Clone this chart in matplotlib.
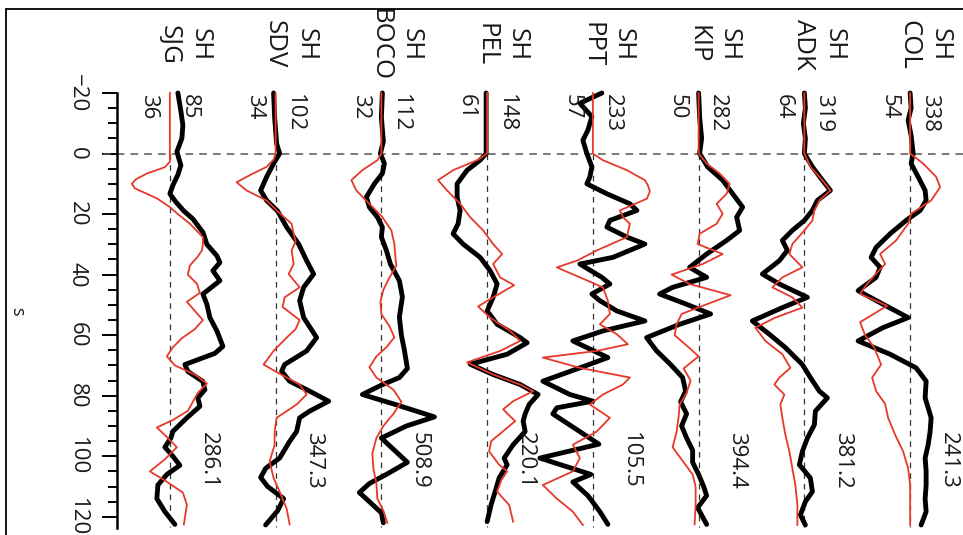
import numpy as np
import matplotlib.pyplot as plt
from matplotlib.patches import Rectangle

plt.rcParams['font.family'] = ['Open Sans', 'DejaVu Sans']

# stations, left to right
stations = ["SJG", "SDV", "BOCO", "PEL", "PPT", "KIP", "ADK", "COL"]
azimuth = [85, 102, 112, 148, 233, 282, 319, 338]
distance = [36, 34, 32, 61, 57, 50, 64, 54]
amplitude = ["286.1", "347.3", "508.9", "220.1", "105.5", "394.4", "381.2", "241.3"]

SJG_OBS = [(-20, 8), (-14, 11), (-9.4, 13), (-5, 12), (-0.6, 7), (3.9, 11), (7, 8), (10.5, 3),
           (13.3, 0), (16, 6), (19, 14), (21.6, 23), (26, 33), (30, 37), (33.8, 47), (36, 50),
           (38.7, 43), (42, 50), (46.4, 33), (49.8, 37), (54.2, 40), (58.6, 47), (63.7, 53),
           (66, 45), (69.7, 15), (72, 18), (75.3, 33), (78, 35), (80.7, 28), (83.5, 30),
           (87.3, 17), (91.8, 3), (94, 1), (97, -5), (100, 3), (103, 10), (106, -3),
           (109.5, -12), (114, -13), (118.3, -5), (122.5, 5)]
SJG_SYN = [(-20, 0), (2.7, 0), (4.5, -5), (6.6, -23), (8.5, -34), (10, -38), (11.5, -35),
           (13.3, -23), (15, -12), (17.7, 0), (20, 8), (23.2, 20), (27.6, 33), (30, 33),
           (32, 32), (34, 28), (37, 20), (40, 18), (43, 27), (46, 30), (49, 17), (52, 25),
           (55, 33), (58, 25), (61, 12), (64, 3), (67, -3), (70, 5), (73, 25), (76, 37),
           (79, 28), (82, 23), (85, 18), (88, 3), (90.5, -13), (93, -5), (97, 7), (101, -5),
           (105, -20), (108, -5), (112, 13), (116, 17), (122.5, 14)]

SDV_OBS = [(-20, -2), (-12, -1), (-3.3, 1), (0, 4), (3.3, -2), (7.7, -9), (12.2, -15),
           (15.5, -9), (19, 2), (24.3, 11), (29.9, 23), (35.4, 31), (39.8, 38), (44.2, 28),
           (48.6, 24), (54.2, 28), (60.8, 41), (65.2, 31), (69.7, 9), (71.9, 6), (75.2, 14),
           (78.5, 34), (81.8, 53), (85.1, 34), (87.3, 24), (91.8, 21), (95.1, 14), (100.6, 4),
           (104, -10), (107, -15), (110, -8), (114, 8), (118, 2), (122.7, -10)]
SDV_SYN = [(-20, 0), (0, 0), (2, -2), (4.4, -9), (7, -25), (9.5, -39), (12.2, -29), (15.5, -9),
           (18.8, 1), (23.2, 16), (26.5, 18), (29, 20), (32, 16), (36.5, 18), (39.8, 13),
           (44.2, 24), (47.5, 9), (50.7, 7), (55, 24), (58, 20), (60.8, 11), (65.2, -2),
           (69.7, -12), (72, 0), (76.3, 24), (79.6, 31), (82.9, 21), (87.3, 1), (91.8, -1),
           (96.2, -1), (101.7, -6), (107.2, -2), (111.7, 4), (117.3, 11), (122.5, 14)]

BOCO_OBS = [(-20, 1), (-12, 0), (-4, 2), (0, -1), (3.3, 3), (6.6, 1), (10, -7), (14.4, -15),
            (17.7, -12), (21, -4), (24.3, 1), (27.6, 0), (32, 5), (36.5, 9), (42, 18),
            (47.4, 21), (54, 18), (60, 20), (65, 23), (71, 26), (74, 18), (76.5, 0),
            (79.6, -19), (83, 15), (87, 53), (90, 25), (94, 0), (98, 13), (102, 26), (106, 5),
            (109, -12), (112, -22), (115, -12), (118.7, 0), (122, 2)]
BOCO_SYN = [(-20, 0), (0, 0), (2.2, -4), (5.5, -19), (8.8, -30), (12.2, -25), (16.6, -12),
            (21, 1), (25.4, 10), (29.9, 13), (34.3, 14), (37, 15), (41, 8), (45, 2), (49, -1),
            (53, 0), (57, 8), (60.7, 13), (64, 5), (67, -5), (70.6, -12), (74, -5), (78, 12),
            (82, 20), (86, 12), (90, 2), (94, -5), (99, -9), (104, -8), (109, -5), (114, -4),
            (118, 2), (122, 6)]

PEL_OBS = [(-20, -1), (0, -1), (2.2, -7), (5.5, -20), (10, -30), (14.4, -30), (18.8, -27),
           (23.2, -29), (26.5, -34), (29.9, -24), (34.3, -7), (38.7, 3), (43.1, 10),
           (47.5, 6), (52, 0), (56.4, 10), (60.8, 33), (62.5, 40), (66.3, 20), (69.6, -17),
           (73, 6), (76.3, 33), (79.6, 51), (82.9, 42), (86, 38), (88.4, 36), (91.8, 38),
           (96.2, 26), (100.6, 17), (102.8, 20), (107.2, 12), (111.7, 8), (116, 4), (121.6, 0)]
PEL_SYN = [(-20, 0), (0, 0), (2.2, -10), (5.5, -34), (8.8, -49), (12.2, -40), (16.6, -27),
           (21, -17), (25.4, -4), (29.9, 6), (33.2, 15), (36.5, 6), (40.9, 13), (43.5, 27),
           (47.5, 6), (50.5, -9), (54.2, 3), (58.6, 23), (61.9, 33), (65.2, 13), (69, -20),
           (73, 6), (76.3, 33), (78.5, 46), (81.8, 26), (84.5, 16), (88.4, 28), (92, 15),
           (95, 4), (98.4, 2), (102.8, 12), (105, 20), (108, 14), (111.7, 10), (116.1, 22),
           (121.6, 26)]

PPT_OBS = [(-20, 9), (-16.6, -13), (-12.2, -1), (-7.7, -5), (-4.4, -10), (0, -6), (4.4, -1),
           (7.7, -3), (10, -6), (13.3, 14), (16.6, 37), (18.8, 44), (22.1, 17), (24.3, 14),
           (27.6, 34), (29.9, 52), (34.3, 20), (36.5, -13), (40.9, 9), (43.1, 17), (46.4, -1),
           (48.6, 7), (52, 24), (55.3, 52), (58.6, 10), (61.9, -20), (64.1, -6), (67.4, 15),
           (70.8, -13), (75.2, -50), (79.6, -23), (81.8, 0), (84, -36), (86, -40), (91, -17),
           (96, 6), (100.6, -53), (106, -2), (108.5, -20), (113, -5), (118.3, 7), (122.5, 15)]
PPT_SYN = [(-20, 0), (0, 0), (2.2, 10), (5.5, 34), (8.8, 52), (10.5, 55), (12.5, 57),
           (14.9, 54), (18.8, 27), (21, 30), (23.2, 37), (27.6, 34), (32, 4), (35.4, -16),
           (37.6, -36), (40.9, -13), (44.2, 10), (48.6, 15), (53, 17), (56.4, 7), (59.7, 24),
           (63, 35), (65.2, 4), (67.4, -50), (70.8, -13), (74, 37), (76.3, 30), (79.6, 10),
           (82.9, -3), (87.3, 17), (91.8, 4), (96.2, -20), (100.6, -13), (105, -20),
           (109.5, -50), (114, -36), (118.3, -20), (122.7, -10)]

KIP_OBS = [(-20, 0), (-12, 1), (-5, 3), (0, 1), (4.4, 9), (8.8, 24), (13.3, 34), (17.7, 44),
           (21, 38), (25.4, 41), (28.7, 28), (33.2, 8), (37.6, -9), (40.9, 8), (44.2, -26),
           (46.4, -39), (49.8, -12), (53, 12), (56.4, -19), (60.8, -52), (65.2, -42),
           (69.7, -28), (74, -16), (78.5, -13), (82, -18), (86, -12), (90, -17), (94, -12),
           (98, -6), (102, -6), (106, 0), (110, 5), (113, 8), (117, -1), (122.5, 8)]
KIP_SYN = [(-20, 0), (0, 0), (3.3, 8), (6.6, 21), (10, 31), (13.3, 28), (16.6, 18), (19.9, 24),
           (23.2, 18), (26.5, 1), (29.9, -1), (33.2, 24), (36.5, 4), (40, -27), (43.1, -9),
           (46.8, 32), (49.8, 8), (53, -17), (56.4, -22), (60, -24), (64, -10), (67, 0),
           (71, -15), (75, -8), (79, -12), (83, -19), (87, -20), (92, -22), (97, -26),
           (102, -15), (106, -6), (110, -3), (116, -3), (122.5, -4)]

ADK_OBS = [(-20, 0), (-15, 1), (-10, -1), (-5, 1), (0, 0), (4.4, 8), (8.8, 18), (12.2, 26),
           (15.5, 13), (18.8, 8), (22.1, 0), (25.4, -12), (28.7, -22), (32, -17), (35.4, -25),
           (39.8, -42), (43.1, -25), (47.5, 3), (50.9, -22), (55.3, -52), (59.7, -35),
           (64.1, -19), (69.7, -2), (74, 6), (78.5, 15), (80.7, 23), (85.1, 11), (89.6, 10),
           (94, 3), (98.4, -2), (102.8, -5), (107.2, 6), (111.7, 8), (115, 1), (119.4, -4),
           (122.7, 1)]
ADK_SYN = [(-20, 0), (0, 0), (4.4, 6), (8.8, 18), (12.2, 26), (15.5, 15), (18.8, 10),
           (22.1, 8), (25.4, 0), (29.9, -12), (33.2, -15), (37.6, -2), (40.9, -22), (44.2, -32),
           (47.5, -12), (50.9, -2), (54.2, -29), (57.5, -49), (61.9, -39), (66.3, -22),
           (70.8, -14), (74, -25), (76.3, -30), (79.6, -20), (82.9, -24), (87.3, -22),
           (92.9, -19), (98.4, -15), (104, -12), (109.5, -9), (116.1, -7), (122.7, -7)]

COL_OBS = [(-20, 0), (-15, 1), (-11, -2), (-6, 1), (0, 3), (3.3, 1), (7.7, 8), (12.2, 15),
           (15.5, 16), (18.8, 10), (22.1, -4), (26.5, -20), (31, -34), (34.3, -39),
           (37.6, -30), (40.9, -34), (45.3, -52), (49.8, -27), (54.2, -2), (57.5, -27),
           (61.9, -52), (66.3, -20), (70.8, 6), (75.2, 16), (80.7, 15), (87.3, 21), (91.8, 20),
           (96.2, 18), (100.6, 15), (105, 16), (109.5, 16), (114, 15), (118.3, 16), (122.7, 11)]
COL_SYN = [(-20, 0), (0, 0), (3.3, 13), (7.7, 26), (11.1, 30), (15.5, 21), (19.9, 1),
           (23.2, -2), (28.7, -14), (33.2, -30), (36.5, -25), (40, -35), (43.5, -44),
           (46.4, -50), (50.3, -23), (55.7, -50), (60, -45), (64, -36), (69.7, -29), (74, -38),
           (78.5, -34), (82.7, -25), (87.3, -22), (92.9, -15), (98.4, -7), (104, -2),
           (109.5, 0), (122.7, 0)]

observed = [SJG_OBS, SDV_OBS, BOCO_OBS, PEL_OBS, PPT_OBS, KIP_OBS, ADK_OBS, COL_OBS]
synthetic = [SJG_SYN, SDV_SYN, BOCO_SYN, PEL_SYN, PPT_SYN, KIP_SYN, ADK_SYN, COL_SYN]

SCALE = 1 / 105.7   # deflection units -> trace spacing
TEXT = '#1a1a1a'

fig = plt.figure(figsize=(9.63, 5.35), dpi=100)
ax = fig.add_axes([117 / 963, 1 - 528 / 535, (963 - 117) / 963, (528 - 93) / 535])
ax.set_xlim(-0.5, 7.5)
ax.set_ylim(123.7, -20)

# zero-time line
ax.plot([-0.634, 7.6], [0, 0], ls=(0, (5, 4)), color='#555555', lw=1.1, clip_on=False)

for i, name in enumerate(stations):
    ax.plot([i, i], [0, 123.3], ls=(0, (4.5, 4)), color='#333333', lw=0.9, clip_on=False)

    t, a = zip(*observed[i])
    ax.plot(i + np.array(a) * SCALE, t, color='black', lw=3.5,
            solid_joinstyle='round', solid_capstyle='round', clip_on=False, zorder=3)
    t, a = zip(*synthetic[i])
    ax.plot(i + np.array(a) * SCALE, t, color='#e6392a', lw=1.3,
            solid_joinstyle='round', clip_on=False, zorder=4)

    ax.text(i + 30 * SCALE, -36, "SH", rotation=270, ha='center', va='center',
            fontsize=18.5, color=TEXT)
    ax.text(i - 1 * SCALE, -36, name, rotation=270, ha='center', va='center',
            fontsize=18.5, color=TEXT)
    ax.text(i + 19 * SCALE, -19.7, str(azimuth[i]), rotation=270, ha='center', va='top',
            fontsize=16, color=TEXT)
    ax.text(i - 21 * SCALE, -19.7, str(distance[i]), rotation=270, ha='center', va='top',
            fontsize=16, color=TEXT)
    ax.text(i + 38 * SCALE, 91.9, amplitude[i], rotation=270, ha='center', va='top',
            fontsize=16, color=TEXT)

# time axis on the left
for side in ['top', 'right', 'bottom']:
    ax.spines[side].set_visible(False)
ax.spines['left'].set_linewidth(1.8)
ax.set_xticks([])
ax.set_yticks(range(-20, 121, 20))
ax.set_yticks(range(-20, 121, 5), minor=True)
ax.tick_params(axis='y', which='major', length=11, width=1.4, pad=10,
               labelsize=16, labelcolor=TEXT)
ax.tick_params(axis='y', which='minor', length=6.5, width=1.4)
for lbl in ax.get_yticklabels():
    lbl.set_rotation(270)
    lbl.set_va('center')
    lbl.set_ha('right')

fig.text(17 / 963, 1 - 311 / 535, "s", rotation=270, ha='center', va='center',
         fontsize=13, color=TEXT)

fig.add_artist(Rectangle((6 / 963, -0.05), 1.0, 1 - 9 / 535 + 0.05,
                         transform=fig.transFigure, fill=False, edgecolor='black', lw=1.3))

fig.savefig('out.png', dpi=100)
